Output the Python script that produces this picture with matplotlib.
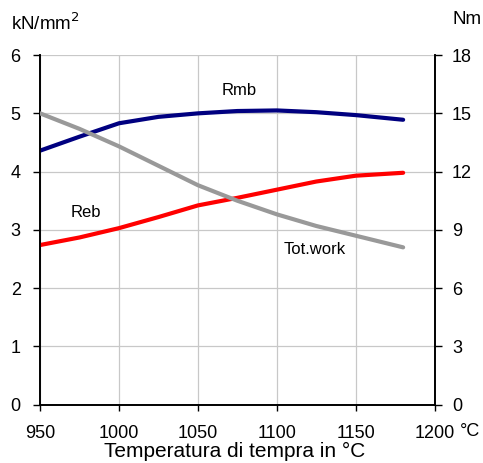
import matplotlib
matplotlib.use("Agg")
import matplotlib.pyplot as plt

plt.rcParams['font.family'] = ['Liberation Sans', 'DejaVu Sans']

# temperature (°C)
temp = [950, 975, 1000, 1025, 1050, 1075, 1100, 1125, 1150, 1180]
# kN/mm2
rmb = [4.36, 4.60, 4.83, 4.94, 5.00, 5.04, 5.05, 5.02, 4.97, 4.89]
reb = [2.74, 2.87, 3.03, 3.22, 3.42, 3.55, 3.69, 3.83, 3.93, 3.98]
# Nm
tot_work = [15.0, 14.2, 13.3, 12.3, 11.3, 10.5, 9.8, 9.2, 8.7, 8.1]

x_ticks = [950, 1000, 1050, 1100, 1150, 1200]
left_ticks = [0, 1, 2, 3, 4, 5, 6]
right_ticks = [0, 3, 6, 9, 12, 15, 18]

fig = plt.figure(figsize=(4.83, 4.63), dpi=100)
ax = fig.add_axes([0.083, 0.126, 0.817, 0.755])
ax2 = ax.twinx()

ax.plot(temp, rmb, color='#000080', lw=3, solid_capstyle='round', solid_joinstyle='round', zorder=3)
ax.plot(temp, reb, color='#ff0000', lw=3, solid_capstyle='round', solid_joinstyle='round', zorder=3)
ax2.plot(temp, tot_work, color='#999999', lw=3, solid_capstyle='round', solid_joinstyle='round', zorder=3)

ax.set_xlim(950, 1200)
ax.set_ylim(0, 6)
ax2.set_ylim(0, 18)
ax.set_xticks(x_ticks)
ax.set_yticks(left_ticks)
ax2.set_yticks(right_ticks)

ax.grid(True, color='#c8c8c8', lw=0.9)
ax.set_axisbelow(True)

for a in (ax, ax2):
    a.spines['top'].set_visible(False)
    a.spines['left'].set_linewidth(1.2)
    a.spines['right'].set_linewidth(1.2)
    a.spines['bottom'].set_linewidth(1.2)
ax.tick_params(axis='x', direction='out', length=4.5, width=1.0, labelsize=13, pad=10)
ax.tick_params(axis='y', direction='out', length=5, width=1.0, labelsize=13, pad=9)
ax2.tick_params(axis='y', direction='out', length=5, width=1.0, labelsize=13, pad=7.5)

fig.text(0.486, 0.012, 'Temperatura di tempra in °C', fontsize=15, ha='center', va='baseline')
fig.text(0.952, 0.068, '°C', fontsize=13, ha='left', va='center')

fig.text(0.022, 0.950, 'kN/mm$^2$', fontsize=13.5, ha='left', va='center')
fig.text(0.936, 0.958, 'Nm', fontsize=13.5, ha='left', va='center')

ax.text(1076, 5.4, 'Rmb', fontsize=12, ha='center', va='center')
ax.text(979, 3.29, 'Reb', fontsize=12, ha='center', va='center')
ax.text(1124, 2.66, 'Tot.work', fontsize=12, ha='center', va='center')

fig.savefig('out.png', dpi=100)
